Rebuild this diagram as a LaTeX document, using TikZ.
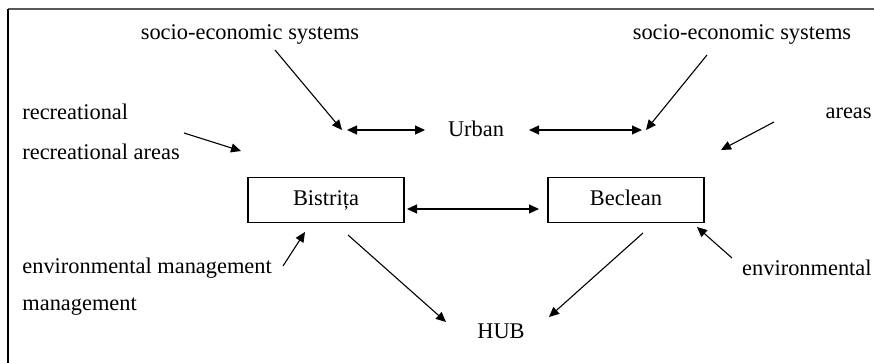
\documentclass[tikz,border=0pt]{standalone}
\usepackage{fontspec}
\setmainfont{Liberation Serif}
\usetikzlibrary{arrows.meta,positioning}

\begin{document}
\begin{tikzpicture}[
  x=0.5pt, y=-0.5pt,
  font=\fontsize{11.2}{13}\selectfont,
  town/.style={
    draw,
    line width=0.9pt,
    minimum width=78pt,
    minimum height=22.5pt,
    text height=1.6ex,
    text depth=0.5ex,
    inner sep=0pt
  },
  tag/.style={inner sep=0pt},
  arrow/.style={-{Triangle[length=5pt,width=4.5pt]},line width=0.55pt},
  twoway/.style={{Triangle[length=5pt,width=4.5pt]}-{Triangle[length=5pt,width=4.5pt]},line width=0.55pt}
]
\useasboundingbox (0,0) rectangle (874,363);
% frame
\draw[gray!70!black,line width=0.8pt] (8,9) -- (874,9);
\draw[line width=0.8pt] (8,9) -- (8,363);

% towns
\node[town] (bistrita) at (326,200) {Bistrița};
\node[town] (beclean) at (626,200) {Beclean};
\node[tag] (urban) at (476,129) {Urban};
\node[tag] (hub) at (501,331) {HUB};

% labels
\node[tag] (socioL) at (250,35) {socio-economic systems};
\node[tag] (socioR) at (742,35) {socio-economic systems};
\node[tag,anchor=west] (recr) at (22,112) {recreational};
\node[tag,anchor=west] (recrareas) at (22,152) {recreational areas};
\node[tag,anchor=east] (areas) at (872,113) {areas};
\node[tag,anchor=west] (envmgmt) at (22,268) {environmental management};
\node[tag,anchor=west] (mgmt) at (22,307) {management};
\node[tag,anchor=east] (env) at (872,268) {environmental};

% connector ends
\coordinate (socioLfrom) at (275,50);
\coordinate (socioLto) at (342,130);
\coordinate (socioRfrom) at (707,55);
\coordinate (socioRto) at (646,130);
\coordinate (urbanLa) at (347,130);
\coordinate (urbanLb) at (425,130);
\coordinate (urbanRa) at (529,130);
\coordinate (urbanRb) at (642,130);
\coordinate (recrfrom) at (184,133);
\coordinate (recrto) at (241,151);
\coordinate (areasfrom) at (774,122);
\coordinate (areasto) at (721,150);
\coordinate (linkL) at (407,209);
\coordinate (linkR) at (539,209);
\coordinate (envLfrom) at (283,266);
\coordinate (envLto) at (305,232);
\coordinate (envRfrom) at (732,258);
\coordinate (envRto) at (697,227);
\coordinate (bistout) at (348,235);
\coordinate (bisthub) at (446,322);
\coordinate (becout) at (643,233);
\coordinate (bechub) at (549,317);

% connectors
\draw[arrow] (socioLfrom) -- (socioLto);
\draw[arrow] (socioRfrom) -- (socioRto);
\draw[twoway] (urbanLa) -- (urbanLb);
\draw[twoway] (urbanRa) -- (urbanRb);
\draw[arrow] (recrfrom) -- (recrto);
\draw[arrow] (areasfrom) -- (areasto);
\draw[twoway] (linkL) -- (linkR);
\draw[arrow] (envLfrom) -- (envLto);
\draw[arrow] (envRfrom) -- (envRto);
\draw[arrow] (bistout) -- (bisthub);
\draw[arrow] (becout) -- (bechub);
\end{tikzpicture}
\end{document}
